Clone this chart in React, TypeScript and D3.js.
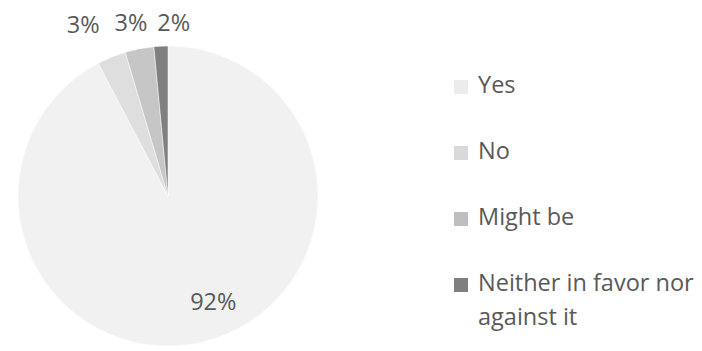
import React from "react";
import * as d3 from "d3";

const categories = ["Yes", "No", "Might be", "Neither in favor nor against it"];
const values = [92.3, 3.1, 3.1, 1.5];
const sliceColors = ["#f1f1f1", "#dedede", "#c6c6c6", "#808080"];
const legendColors = ["#ececec", "#d9d9d9", "#bfbfbf", "#7f7f7f"];
const legendLines = [["Yes"], ["No"], ["Might be"], ["Neither in favor nor", "against it"]];

const W = 702;
const H = 351;
const cx = 168;
const cy = 196;
const R = 150;
const FONT = "'Open Sans', Lato, sans-serif";
const FS = 23.5;

export default function App() {
  const total = d3.sum(values);
  const pie = d3.pie<number>().sort(null).value((d) => d)(values);
  const arc = d3.arc<d3.PieArcDatum<number>>().innerRadius(0).outerRadius(R);
  const labelArc = d3.arc<d3.PieArcDatum<number>>().innerRadius(176).outerRadius(176);
  const innerLabelArc = d3.arc<d3.PieArcDatum<number>>().innerRadius(114).outerRadius(114);

  // label offsets (layout only)
  const shiftX = [18, -18.5, -3.5, 14];
  const shiftY = [3, 0, 8, 11];

  return (
    <svg width={W} height={H} style={{ position: "absolute", left: 0, top: 0, background: "#fff" }}>
      <rect width={W} height={H} fill="#fff" />
      <g transform={`translate(${cx},${cy})`}>
        {pie.map((p, i) => (
          <path key={i} d={arc(p) || ""} fill={sliceColors[i]} stroke="#fff" strokeWidth={0.5} />
        ))}
        {pie.map((p, i) => {
          const pct = Math.round((values[i] / total) * 100) + "%";
          const [x, y] = (i === 0 ? innerLabelArc : labelArc).centroid(p);
          return (
            <text key={i} x={x + shiftX[i]} y={y + shiftY[i]} textAnchor="middle" fontFamily={FONT} fontSize={FS} fill="#595959">
              {pct}
            </text>
          );
        })}
      </g>
      <g>
        {categories.map((c, i) => {
          const y = 93 + i * 66;
          return (
            <g key={c} transform={`translate(454,${y})`}>
              <rect x={0} y={-13} width={14} height={14} fill={legendColors[i]} />
              {legendLines[i].map((line, j) => (
                <text key={j} x={24} y={j * 34} fontFamily={FONT} fontSize={FS} fill="#595959">
                  {line}
                </text>
              ))}
            </g>
          );
        })}
      </g>
    </svg>
  );
}
